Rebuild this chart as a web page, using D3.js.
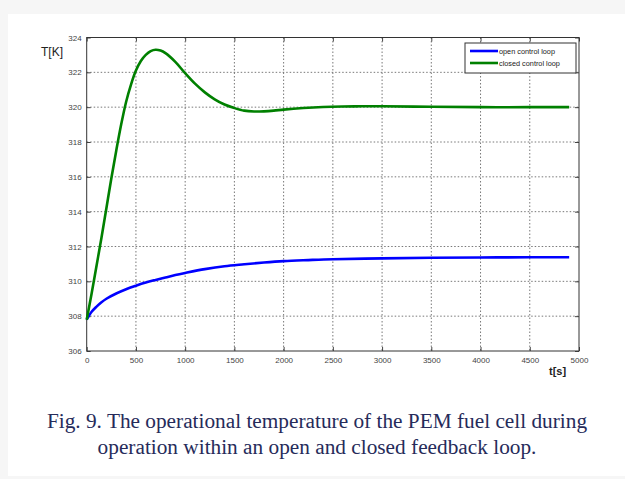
<!DOCTYPE html>
<html>
<head>
<meta charset="utf-8">
<script src="https://cdn.jsdelivr.net/npm/d3@7"></script>
<style>
  html, body { margin: 0; padding: 0; background: #f6f6f6; }
  svg { display: block; }
</style>
</head>
<body>
<svg id="chart" width="625" height="479"></svg>
<script>
// Time axis (s) and temperature (K) samples for both control modes
const openTime = [0, 50, 100, 150, 200, 300, 400, 500, 600, 700, 800, 900, 1000, 1200, 1400, 1600, 1800, 2000, 2250, 2500, 3000, 3500, 4000, 4500, 4900];
const openTemp = [307.8, 308.25, 308.55, 308.8, 309.0, 309.3, 309.55, 309.75, 309.93, 310.08, 310.22, 310.36, 310.48, 310.7, 310.87, 310.98, 311.08, 311.16, 311.22, 311.27, 311.32, 311.35, 311.37, 311.38, 311.38];

const closedTime = [0, 50, 100, 150, 200, 250, 300, 350, 400, 450, 500, 550, 600, 650, 700, 750, 800, 900, 1000, 1100, 1200, 1300, 1400, 1500, 1600, 1700, 1800, 1900, 2000, 2200, 2400, 2600, 2800, 3000, 3500, 4000, 4500, 4900];
const closedTemp = [307.8, 309.3, 310.9, 312.5, 314.2, 315.9, 317.5, 319.0, 320.3, 321.3, 322.1, 322.65, 323.0, 323.22, 323.3, 323.25, 323.1, 322.6, 321.95, 321.35, 320.85, 320.45, 320.15, 319.95, 319.8, 319.75, 319.76, 319.8, 319.86, 319.95, 320.01, 320.04, 320.05, 320.05, 320.02, 320.0, 320.0, 320.0];

const xTicks = [0, 500, 1000, 1500, 2000, 2500, 3000, 3500, 4000, 4500, 5000];
const yTicks = [306, 308, 310, 312, 314, 316, 318, 320, 322, 324];

const seriesNames = ["open control loop", "closed control loop"];
const seriesColors = ["#0000ff", "#008000"];

const captionLines = [
  "Fig. 9. The operational temperature of the PEM fuel cell during",
  "operation within an open and closed feedback loop."
];

const svg = d3.select("#chart");

// page card
svg.append("rect").attr("x", 8).attr("y", 14).attr("width", 617).attr("height", 462).attr("fill", "#ffffff");

const plot = { left: 86.7, right: 579, top: 37.5, bottom: 351 };

const x = d3.scaleLinear().domain([0, 5000]).range([plot.left, plot.right]);
const y = d3.scaleLinear().domain([306, 324]).range([plot.bottom, plot.top]);

// grid
const grid = svg.append("g").attr("stroke", "#555").attr("stroke-width", 0.8).attr("stroke-dasharray", "1.5,2");
grid.selectAll("line.gx").data(xTicks.slice(1, -1)).join("line")
  .attr("x1", d => x(d)).attr("x2", d => x(d))
  .attr("y1", plot.top).attr("y2", plot.bottom);
grid.selectAll("line.gy").data(yTicks.slice(1, -1)).join("line")
  .attr("x1", plot.left).attr("x2", plot.right)
  .attr("y1", d => y(d)).attr("y2", d => y(d));

// axes: box with inward ticks on all four sides
const tickStyle = g => {
  g.select(".domain").remove();
  g.selectAll(".tick line").attr("stroke", "#444");
  g.selectAll(".tick text").attr("fill", "#444").attr("font-family", "Liberation Sans, Arial, sans-serif").attr("font-size", "8px");
};
svg.append("g").attr("transform", `translate(0,${plot.bottom})`)
  .call(d3.axisBottom(x).tickValues(xTicks).tickSize(-4).tickPadding(6).tickFormat(d3.format("d")))
  .call(tickStyle);
svg.append("g").attr("transform", `translate(${plot.left},0)`)
  .call(d3.axisLeft(y).tickValues(yTicks).tickSize(-4).tickPadding(5).tickFormat(d3.format("d")))
  .call(tickStyle);
svg.append("g").attr("transform", `translate(0,${plot.top})`)
  .call(d3.axisTop(x).tickValues(xTicks).tickSize(-4).tickFormat(""))
  .call(tickStyle);
svg.append("g").attr("transform", `translate(${plot.right},0)`)
  .call(d3.axisRight(y).tickValues(yTicks).tickSize(-4).tickFormat(""))
  .call(tickStyle);

svg.append("rect")
  .attr("x", plot.left).attr("y", plot.top)
  .attr("width", plot.right - plot.left).attr("height", plot.bottom - plot.top)
  .attr("fill", "none").attr("stroke", "#333").attr("stroke-width", 1);

// curves
const line = d3.line().x(d => x(d[0])).y(d => y(d[1])).curve(d3.curveCatmullRom.alpha(0.5));
const series = [
  d3.zip(openTime, openTemp),
  d3.zip(closedTime, closedTemp)
];
svg.append("g").selectAll("path").data(series).join("path")
  .attr("d", line)
  .attr("fill", "none")
  .attr("stroke", (d, i) => seriesColors[i])
  .attr("stroke-width", 2.6)
  .attr("stroke-linejoin", "round");

// axis titles
svg.append("text").attr("x", 41).attr("y", 56)
  .attr("font-family", "Liberation Sans, Arial, sans-serif").attr("font-size", "12px").attr("fill", "#222")
  .text("T[K]");
svg.append("text").attr("x", 549).attr("y", 375)
  .attr("font-family", "Liberation Sans, Arial, sans-serif").attr("font-size", "11px").attr("font-weight", "bold").attr("fill", "#222")
  .text("t[s]");

// legend
const legend = svg.append("g");
legend.append("rect").attr("x", 465).attr("y", 43).attr("width", 111).attr("height", 30)
  .attr("fill", "#fff").attr("stroke", "#333").attr("stroke-width", 1);
const items = legend.selectAll("g.item").data(seriesNames).join("g")
  .attr("transform", (d, i) => `translate(0,${51 + i * 12})`);
items.append("line").attr("x1", 470).attr("x2", 498).attr("y1", 0).attr("y2", 0)
  .attr("stroke", (d, i) => seriesColors[i]).attr("stroke-width", 2.6);
items.append("text").attr("x", 499).attr("y", 2.5)
  .attr("font-family", "Liberation Sans, Arial, sans-serif").attr("font-size", "7.3px").attr("fill", "#222")
  .text(d => d);

// caption
svg.append("g").selectAll("text").data(captionLines).join("text")
  .attr("x", 317).attr("y", (d, i) => 428 + i * 26)
  .attr("text-anchor", "middle")
  .attr("font-family", "Liberation Serif, Times New Roman, serif").attr("font-size", "21.3px").attr("fill", "#262b5a")
  .text(d => d);
</script>
</body>
</html>
